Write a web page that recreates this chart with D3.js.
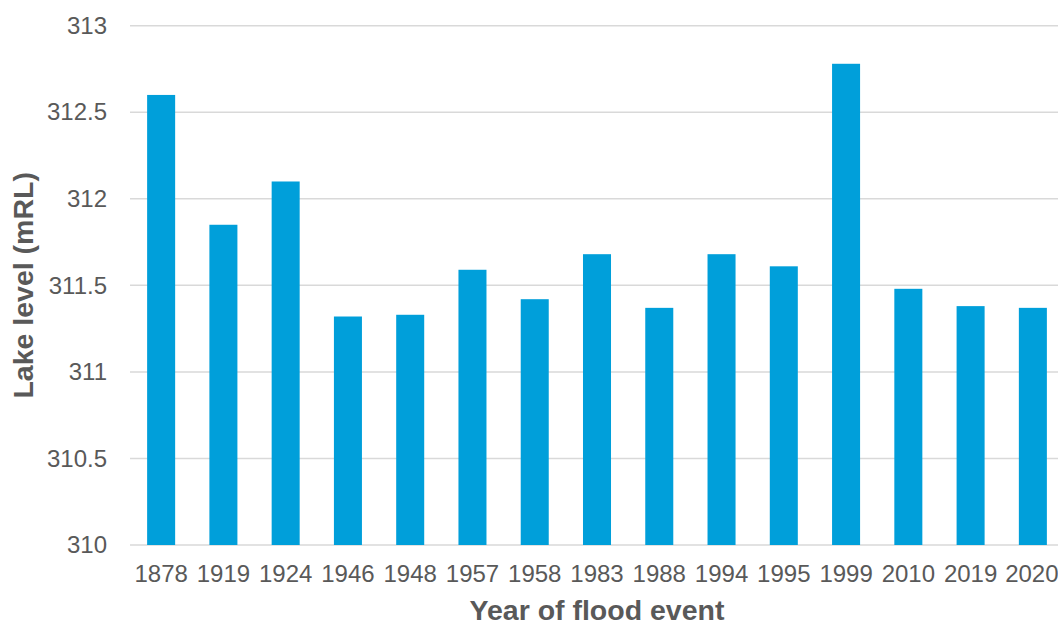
<!DOCTYPE html>
<html>
<head>
<meta charset="utf-8">
<script src="https://cdn.jsdelivr.net/npm/d3@7"></script>
<style>
  html, body { margin: 0; padding: 0; background: #ffffff; }
  svg { display: block; }
  text { font-family: "Liberation Sans", Arial, sans-serif; }
</style>
</head>
<body>
<svg id="chart" width="1058" height="631"></svg>
<script>
// Flood event years and peak lake levels (mRL)
const years = ["1878", "1919", "1924", "1946", "1948", "1957", "1958", "1983",
               "1988", "1994", "1995", "1999", "2010", "2019", "2020"];
const levels = [312.60, 311.85, 312.10, 311.32, 311.33, 311.59, 311.42, 311.68,
                311.37, 311.68, 311.61, 312.78, 311.48, 311.38, 311.37];
const yTicks = [310, 310.5, 311, 311.5, 312, 312.5, 313];

const svg = d3.select("#chart");
const plot = { left: 130, right: 1064, top: 25.7, bottom: 545 };
const textColor = "#595959";

const x = d3.scaleBand()
  .domain(years)
  .range([plot.left, plot.right])
  .paddingInner(0.55)
  .paddingOuter(0.275);

const y = d3.scaleLinear()
  .domain([310, 313])
  .range([plot.bottom, plot.top]);

// Horizontal gridlines
svg.append("g")
  .selectAll("line")
  .data(yTicks)
  .join("line")
  .attr("x1", plot.left)
  .attr("x2", plot.right)
  .attr("y1", d => y(d))
  .attr("y2", d => y(d))
  .attr("stroke", "#d9d9d9")
  .attr("stroke-width", 1.5);

// Bars
svg.append("g")
  .selectAll("rect")
  .data(years.map((yr, i) => ({ yr, v: levels[i] })))
  .join("rect")
  .attr("x", d => x(d.yr))
  .attr("width", x.bandwidth())
  .attr("y", d => y(d.v))
  .attr("height", d => y(310) - y(d.v))
  .attr("fill", "#009FDA");

// Y axis
const yAxis = svg.append("g")
  .attr("transform", `translate(${plot.left},0)`)
  .call(d3.axisLeft(y).tickValues(yTicks).tickFormat(d => String(d)).tickSize(0).tickPadding(23));
yAxis.select(".domain").remove();
yAxis.selectAll("text")
  .attr("fill", textColor)
  .attr("font-size", 24)
  .style("font-family", "'Liberation Sans', Arial, sans-serif");

// X axis
const xAxis = svg.append("g")
  .attr("transform", `translate(0,${plot.bottom})`)
  .call(d3.axisBottom(x).tickSize(0).tickPadding(20));
xAxis.select(".domain").remove();
xAxis.selectAll("text")
  .attr("fill", textColor)
  .attr("font-size", 24)
  .style("font-family", "'Liberation Sans', Arial, sans-serif");
// keep the last year label inside the canvas edge
xAxis.selectAll(".tick").filter(d => d === years[years.length - 1])
  .select("text").attr("dx", "-1");

// Axis titles
svg.append("text")
  .attr("x", (plot.left + plot.right) / 2)
  .attr("y", 620)
  .attr("text-anchor", "middle")
  .attr("font-size", 28.5)
  .attr("font-weight", "bold")
  .attr("fill", textColor)
  .text("Year of flood event");

svg.append("text")
  .attr("transform", `translate(23,${(plot.top + plot.bottom) / 2}) rotate(-90)`)
  .attr("dy", "0.35em")
  .attr("text-anchor", "middle")
  .attr("font-size", 28.5)
  .attr("font-weight", "bold")
  .attr("fill", textColor)
  .text("Lake level (mRL)");
</script>
</body>
</html>
